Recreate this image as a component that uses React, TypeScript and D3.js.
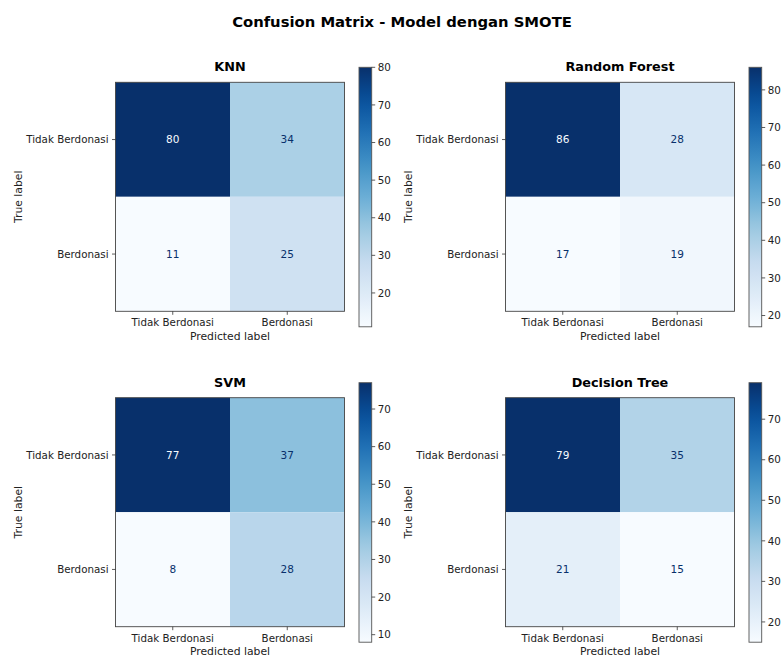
import React from "react";
import * as d3 from "d3";

const classLabels = ["Tidak Berdonasi", "Berdonasi"];
const modelNames = ["KNN", "Random Forest", "SVM", "Decision Tree"];
const knnMatrix = [[80, 34], [11, 25]];
const rfMatrix = [[86, 28], [17, 19]];
const svmMatrix = [[77, 37], [8, 28]];
const dtMatrix = [[79, 35], [21, 15]];
const matrices = [knnMatrix, rfMatrix, svmMatrix, dtMatrix];
const blues = ["#f7fbff", "#deebf7", "#c6dbef", "#9ecae1", "#6baed6", "#4292c6", "#2171b5", "#08519c", "#08306b"];

const W = 781, H = 657;
const FONT = "DejaVu Sans, sans-serif";
const interp = d3.piecewise(d3.interpolateRgb, blues);

function Panel({ idx }: { idx: number }) {
  const col = idx % 2, row = Math.floor(idx / 2);
  const x0 = col === 0 ? 115.5 : 505.5;
  const y0 = row === 0 ? 82.3 : 397.7;
  const size = 229;
  const m = matrices[idx];
  const flat = m.flat();
  const vmin = d3.min(flat)!, vmax = d3.max(flat)!;
  const color = d3.scaleSequential(interp).domain([vmin, vmax]);
  const band = d3.scaleBand().domain(classLabels).range([0, size]);
  const thresh = (vmin + vmax) / 2;
  const cbX = x0 + size + 14.5, cbW = 12.7;
  const cbY = y0 - 15, cbH = 259.5;
  const cbScale = d3.scaleLinear().domain([vmin, vmax]).range([cbY + cbH, cbY]);
  const cbTicks = cbScale.ticks(8);
  const gid = `grad${idx}`;
  const stops = d3.range(0, 1.0001, 0.05);
  const cx = x0 + size / 2, cy = y0 + size / 2;
  return (
    <g>
      <defs>
        <linearGradient id={gid} x1="0" y1="1" x2="0" y2="0">
          {stops.map((t) => (
            <stop key={t} offset={t} stopColor={interp(t)} />
          ))}
        </linearGradient>
      </defs>
      <text x={cx} y={y0 - 11} textAnchor="middle" fontSize={12.8} fontWeight="bold" fontFamily={FONT} fill="#000">
        {modelNames[idx]}
      </text>
      {m.map((r, i) =>
        r.map((v, j) => (
          <g key={`${i}-${j}`}>
            <rect x={x0 + band(classLabels[j])!} y={y0 + band(classLabels[i])!} width={band.bandwidth()} height={band.bandwidth()} fill={color(v)} />
            <text
              x={x0 + band(classLabels[j])! + band.bandwidth() / 2}
              y={y0 + band(classLabels[i])! + band.bandwidth() / 2 + 3.7}
              textAnchor="middle"
              fontSize={10.5}
              fontFamily={FONT}
              fill={v < thresh ? "#08306b" : "#f7fbff"}
            >
              {v}
            </text>
          </g>
        ))
      )}
      <rect x={x0} y={y0} width={size} height={size} fill="none" stroke="#444" strokeWidth={0.9} />
      {classLabels.map((c) => {
        const p = band(c)! + band.bandwidth() / 2;
        return (
          <g key={c}>
            <line x1={x0 - 3.5} x2={x0} y1={y0 + p} y2={y0 + p} stroke="#333" strokeWidth={0.8} />
            <text x={x0 - 7} y={y0 + p + 3.7} textAnchor="end" fontSize={10.3} fontFamily={FONT} fill="#222">
              {c}
            </text>
            <line x1={x0 + p} x2={x0 + p} y1={y0 + size} y2={y0 + size + 3.5} stroke="#333" strokeWidth={0.8} />
            <text x={x0 + p} y={y0 + size + 15} textAnchor="middle" fontSize={10.3} fontFamily={FONT} fill="#222">
              {c}
            </text>
          </g>
        );
      })}
      <text x={cx} y={y0 + size + 28.5} textAnchor="middle" fontSize={10.8} fontFamily={FONT} fill="#222">
        Predicted label
      </text>
      <text transform={`translate(${x0 - 93.5},${cy}) rotate(-90)`} textAnchor="middle" fontSize={10.8} fontFamily={FONT} fill="#222">
        True label
      </text>
      <rect x={cbX} y={cbY} width={cbW} height={cbH} fill={`url(#${gid})`} stroke="#555" strokeWidth={0.9} />
      {cbTicks.map((t) => (
        <g key={t}>
          <line x1={cbX + cbW} x2={cbX + cbW + 3.5} y1={cbScale(t)} y2={cbScale(t)} stroke="#333" strokeWidth={0.8} />
          <text x={cbX + cbW + 6} y={cbScale(t) + 3.7} fontSize={10.3} fontFamily={FONT} fill="#222">
            {t}
          </text>
        </g>
      ))}
    </g>
  );
}

export default function App() {
  return (
    <svg width={W} height={H} style={{ position: "absolute", left: 0, top: 0, background: "#fff" }}>
      <rect width={W} height={H} fill="#fff" />
      <text x={402} y={26.5} textAnchor="middle" fontSize={14.8} fontWeight="bold" fontFamily={FONT} fill="#000">
        Confusion Matrix - Model dengan SMOTE
      </text>
      {modelNames.map((_, i) => (
        <Panel key={i} idx={i} />
      ))}
    </svg>
  );
}
